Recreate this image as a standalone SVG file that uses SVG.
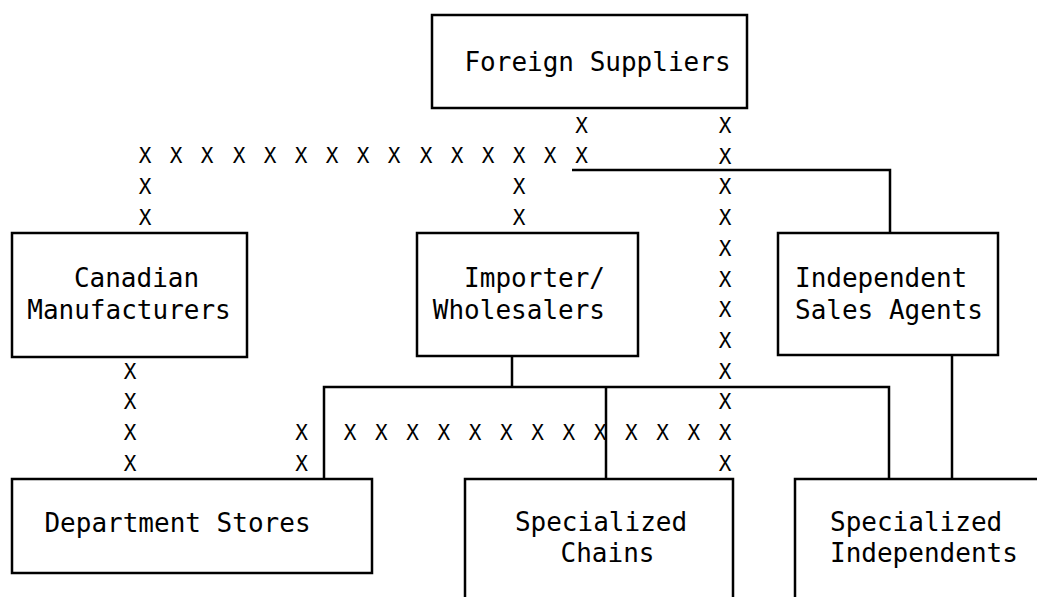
<svg xmlns="http://www.w3.org/2000/svg" width="1037" height="597" viewBox="0 0 1037 597">
<style>
.box{fill:none;stroke:#000;stroke-width:2.5}
.ln{fill:none;stroke:#000;stroke-width:2.5}
.t{font-family:"DejaVu Sans Mono","Liberation Mono",monospace;font-size:26px;fill:#000}
.x{font-family:"DejaVu Sans Mono","Liberation Mono",monospace;font-size:21px;fill:#000;text-anchor:middle}
.m{text-anchor:middle}
.e{text-anchor:end}
</style>
<rect width="1037" height="597" fill="#fff"/>
<g id="foreign-suppliers">
<rect class="box" x="432" y="15" width="315" height="93"/>
<text class="t m" x="597.5" y="71">Foreign Suppliers</text>
</g>
<g id="canadian-manufacturers">
<rect class="box" x="12" y="233" width="235" height="124"/>
<text class="t m" x="136.5" y="287">Canadian</text>
<text class="t m" x="129" y="319">Manufacturers</text>
</g>
<g id="importer-wholesalers">
<rect class="box" x="417" y="233" width="221" height="123"/>
<text class="t e" x="605" y="287">Importer/</text>
<text class="t e" x="605" y="319">Wholesalers</text>
</g>
<g id="independent-sales-agents">
<rect class="box" x="778" y="233" width="220" height="122"/>
<text class="t" x="795" y="287">Independent</text>
<text class="t" x="795" y="319">Sales Agents</text>
</g>
<g id="department-stores">
<rect class="box" x="12" y="479" width="360" height="94"/>
<text class="t m" x="177.5" y="532">Department Stores</text>
</g>
<g id="specialized-chains">
<path class="box" d="M465,597 V479 H733 V597"/>
<text class="t m" x="601" y="531">Specialized</text>
<text class="t m" x="607.5" y="562">Chains</text>
</g>
<g id="specialized-independents">
<path class="box" d="M795,597 V479 H1037"/>
<text class="t" x="830" y="531">Specialized</text>
<text class="t" x="830" y="562">Independents</text>
</g>
<g id="connectors">
<path class="ln" d="M572,170 H890 V233"/>
<path class="ln" d="M512,356 V387 M324,479 V387 H889 V479 M606,387 V479"/>
<path class="ln" d="M952,355 V479"/>
<text class="x" x="145 176 207 239 270 301 332 363 394 426 457 488 519 550 581.5" y="163">XXXXXXXXXXXXXXX</text>
<text class="x" x="581.5" y="133">X</text>
<text class="x" x="145" y="194">X</text>
<text class="x" x="145" y="225">X</text>
<text class="x" x="519" y="194">X</text>
<text class="x" x="519" y="225">X</text>
<text class="x" x="725" y="133">X</text>
<text class="x" x="725" y="163.7">X</text>
<text class="x" x="725" y="194.4">X</text>
<text class="x" x="725" y="225.1">X</text>
<text class="x" x="725" y="255.8">X</text>
<text class="x" x="725" y="286.5">X</text>
<text class="x" x="725" y="317.2">X</text>
<text class="x" x="725" y="347.9">X</text>
<text class="x" x="725" y="378.6">X</text>
<text class="x" x="725" y="409.3">X</text>
<text class="x" x="725" y="440">X</text>
<text class="x" x="725" y="470.7">X</text>
<text class="x" x="130" y="378.6">X</text>
<text class="x" x="130" y="409.3">X</text>
<text class="x" x="130" y="440">X</text>
<text class="x" x="130" y="470.7">X</text>
<text class="x" x="301.5" y="440">X</text>
<text class="x" x="301.5" y="470.7">X</text>
<text class="x" x="350 381.25 412.5 443.75 475 506.25 537.5 568.75 600 631.25 662.5 693.75" y="440">XXXXXXXXXXXX</text>
</g>
</svg>
